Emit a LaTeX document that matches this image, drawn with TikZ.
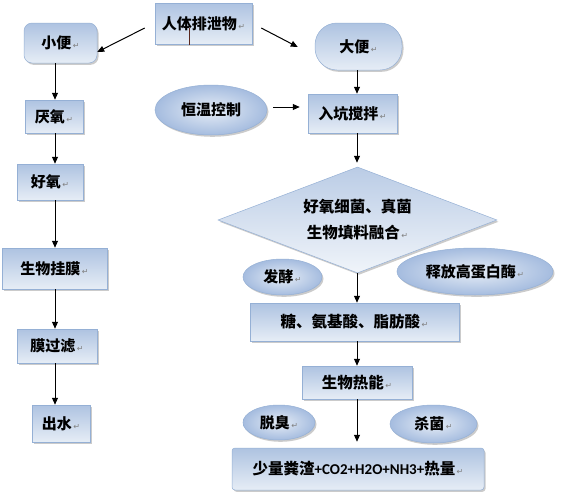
\documentclass[tikz,border=0pt]{standalone}
\usepackage{fontspec}
\setmainfont{Noto Sans CJK SC}
\newfontfamily\latf{Carlito}
\newfontfamily\djf{DejaVu Sans}
\usetikzlibrary{shapes.geometric,arrows.meta,shadows,calc}
\newcommand\parmark{{\mdseries\djf\fontsize{8}{8}\selectfont\color{black!50}\,↵}}
\definecolor{bordc}{HTML}{95B0D5}
\definecolor{topc}{HTML}{AEC3E1}
\definecolor{botc}{HTML}{E6EDF6}
\definecolor{inc}{HTML}{E6EDF6}
\definecolor{outc}{HTML}{A5BCDF}
\tikzset{
  shadowed/.style={drop shadow={shadow xshift=1.5pt,shadow yshift=-1.8pt,fill=black!45,opacity=0.45}},
  box/.style={shadowed,draw=bordc,line width=0.5pt,top color=topc,bottom color=botc,
    inner sep=0pt,font=\bfseries\fontsize{15}{15}\selectfont,align=center},
  ell/.style={box,ellipse,shading=radial,inner color=inc,outer color=outc},
  arr/.style={-{Triangle[length=7pt,width=6pt]},line width=1pt,black},
}
\begin{document}
\begin{tikzpicture}[x=1pt,y=-1pt]
\useasboundingbox[fill=white] (0,0) rectangle (566,493);
\coordinate (lc) at (55,0);
\coordinate (rc) at (357,0);
% right column
\node[box,minimum width=97,minimum height=41] (A) at (203.5,23.5) {人体排泄物\parmark};
\node[box,rounded corners=8pt,minimum width=73,minimum height=40] (B) at (60.5,43) {小便\parmark};
\node[box,rounded corners=22pt,minimum width=87,minimum height=47] (C) at (358.5,46.5) {大便\parmark};
\node[box,minimum width=89,minimum height=39] (D) at (352.5,113.5) {入坑搅拌\parmark};
\node[ell,minimum width=112,minimum height=50] (E) at (211,110) {恒温控制};
\node[box,diamond,aspect=2.6,top color=topc!85,bottom color=botc!60!white,minimum width=279,minimum height=106,font=\bfseries\fontsize{15.5}{26}\selectfont] (F) at (357.5,220) {好氧细菌、真菌\\生物填料融合\parmark};
\node[ell,minimum width=79,minimum height=36] (G) at (282.5,277) {发酵\parmark};
\node[ell,minimum width=156,minimum height=47] (H) at (475,271.5) {释放高蛋白酶\parmark};
\node[box,minimum width=209,minimum height=38,font=\bfseries\fontsize{15.5}{15.5}\selectfont] (I) at (354.5,322) {糖、氨基酸、脂肪酸\parmark};
\node[box,minimum width=110,minimum height=33,font=\bfseries\fontsize{15.5}{15.5}\selectfont] (J) at (357,382.5) {生物热能\parmark};
\node[ell,minimum width=72,minimum height=35] (K) at (279,422.5) {脱臭\parmark};
\node[ell,minimum width=87,minimum height=38] (L) at (433.5,424) {杀菌\parmark};
\node[box,rounded corners=3pt,minimum width=252,minimum height=42,font=\bfseries\fontsize{15.5}{15.5}\selectfont] (M) at (358,469) {少量粪渣{\latf\fontsize{15}{15}\selectfont +CO2+H2O+NH3+}热量\parmark};
% left column
\node[box,minimum width=58,minimum height=33] (N) at (54,116.5) {厌氧\parmark};
\node[box,minimum width=66,minimum height=36] (O) at (50,182) {好氧\parmark};
\node[box,minimum width=105,minimum height=41] (P) at (54.5,268.5) {生物挂膜\parmark};
\node[box,minimum width=80,minimum height=34] (Q) at (57,346) {膜过滤\parmark};
\node[box,minimum width=58,minimum height=37] (R) at (61,423.5) {出水\parmark};
% small mark inside top box
\draw[line width=1pt,color={rgb,255:red,90;green,40;blue,30}] ($(A.south)+(-14.5,-16)$) -- ($(A.south)+(-14.5,1)$);
% connectors
\draw[arr] ($(A.west)+(-10,4.5)$) -- ($(B.east)+(0,9)$);
\draw[arr] ($(A.east)+(9,4.5)$) -- ($(C.west)+(-17,0.5)$);
\draw[arr] ($(E.east)+(6,-3)$) -- ($(D.west)+(-8,-6.5)$);
\draw[arr] (C.south -| rc) -- (D.north -| rc);
\draw[arr,shorten >=4pt] (D.south -| rc) -- (F.north -| rc);
\draw[arr] (F.south -| rc) -- (I.north -| rc);
\draw[arr] (I.south -| rc) -- (J.north -| rc);
\draw[arr,shorten >=6pt] (J.south -| rc) -- (M.north -| rc);
\draw[arr] (B.south -| lc) -- (N.north -| lc);
\draw[arr] (N.south -| lc) -- (O.north -| lc);
\draw[arr] (O.south -| lc) -- (P.north -| lc);
\draw[arr] (P.south -| lc) -- (Q.north -| lc);
\draw[arr] (Q.south -| lc) -- (R.north -| lc);
\end{tikzpicture}
\end{document}
